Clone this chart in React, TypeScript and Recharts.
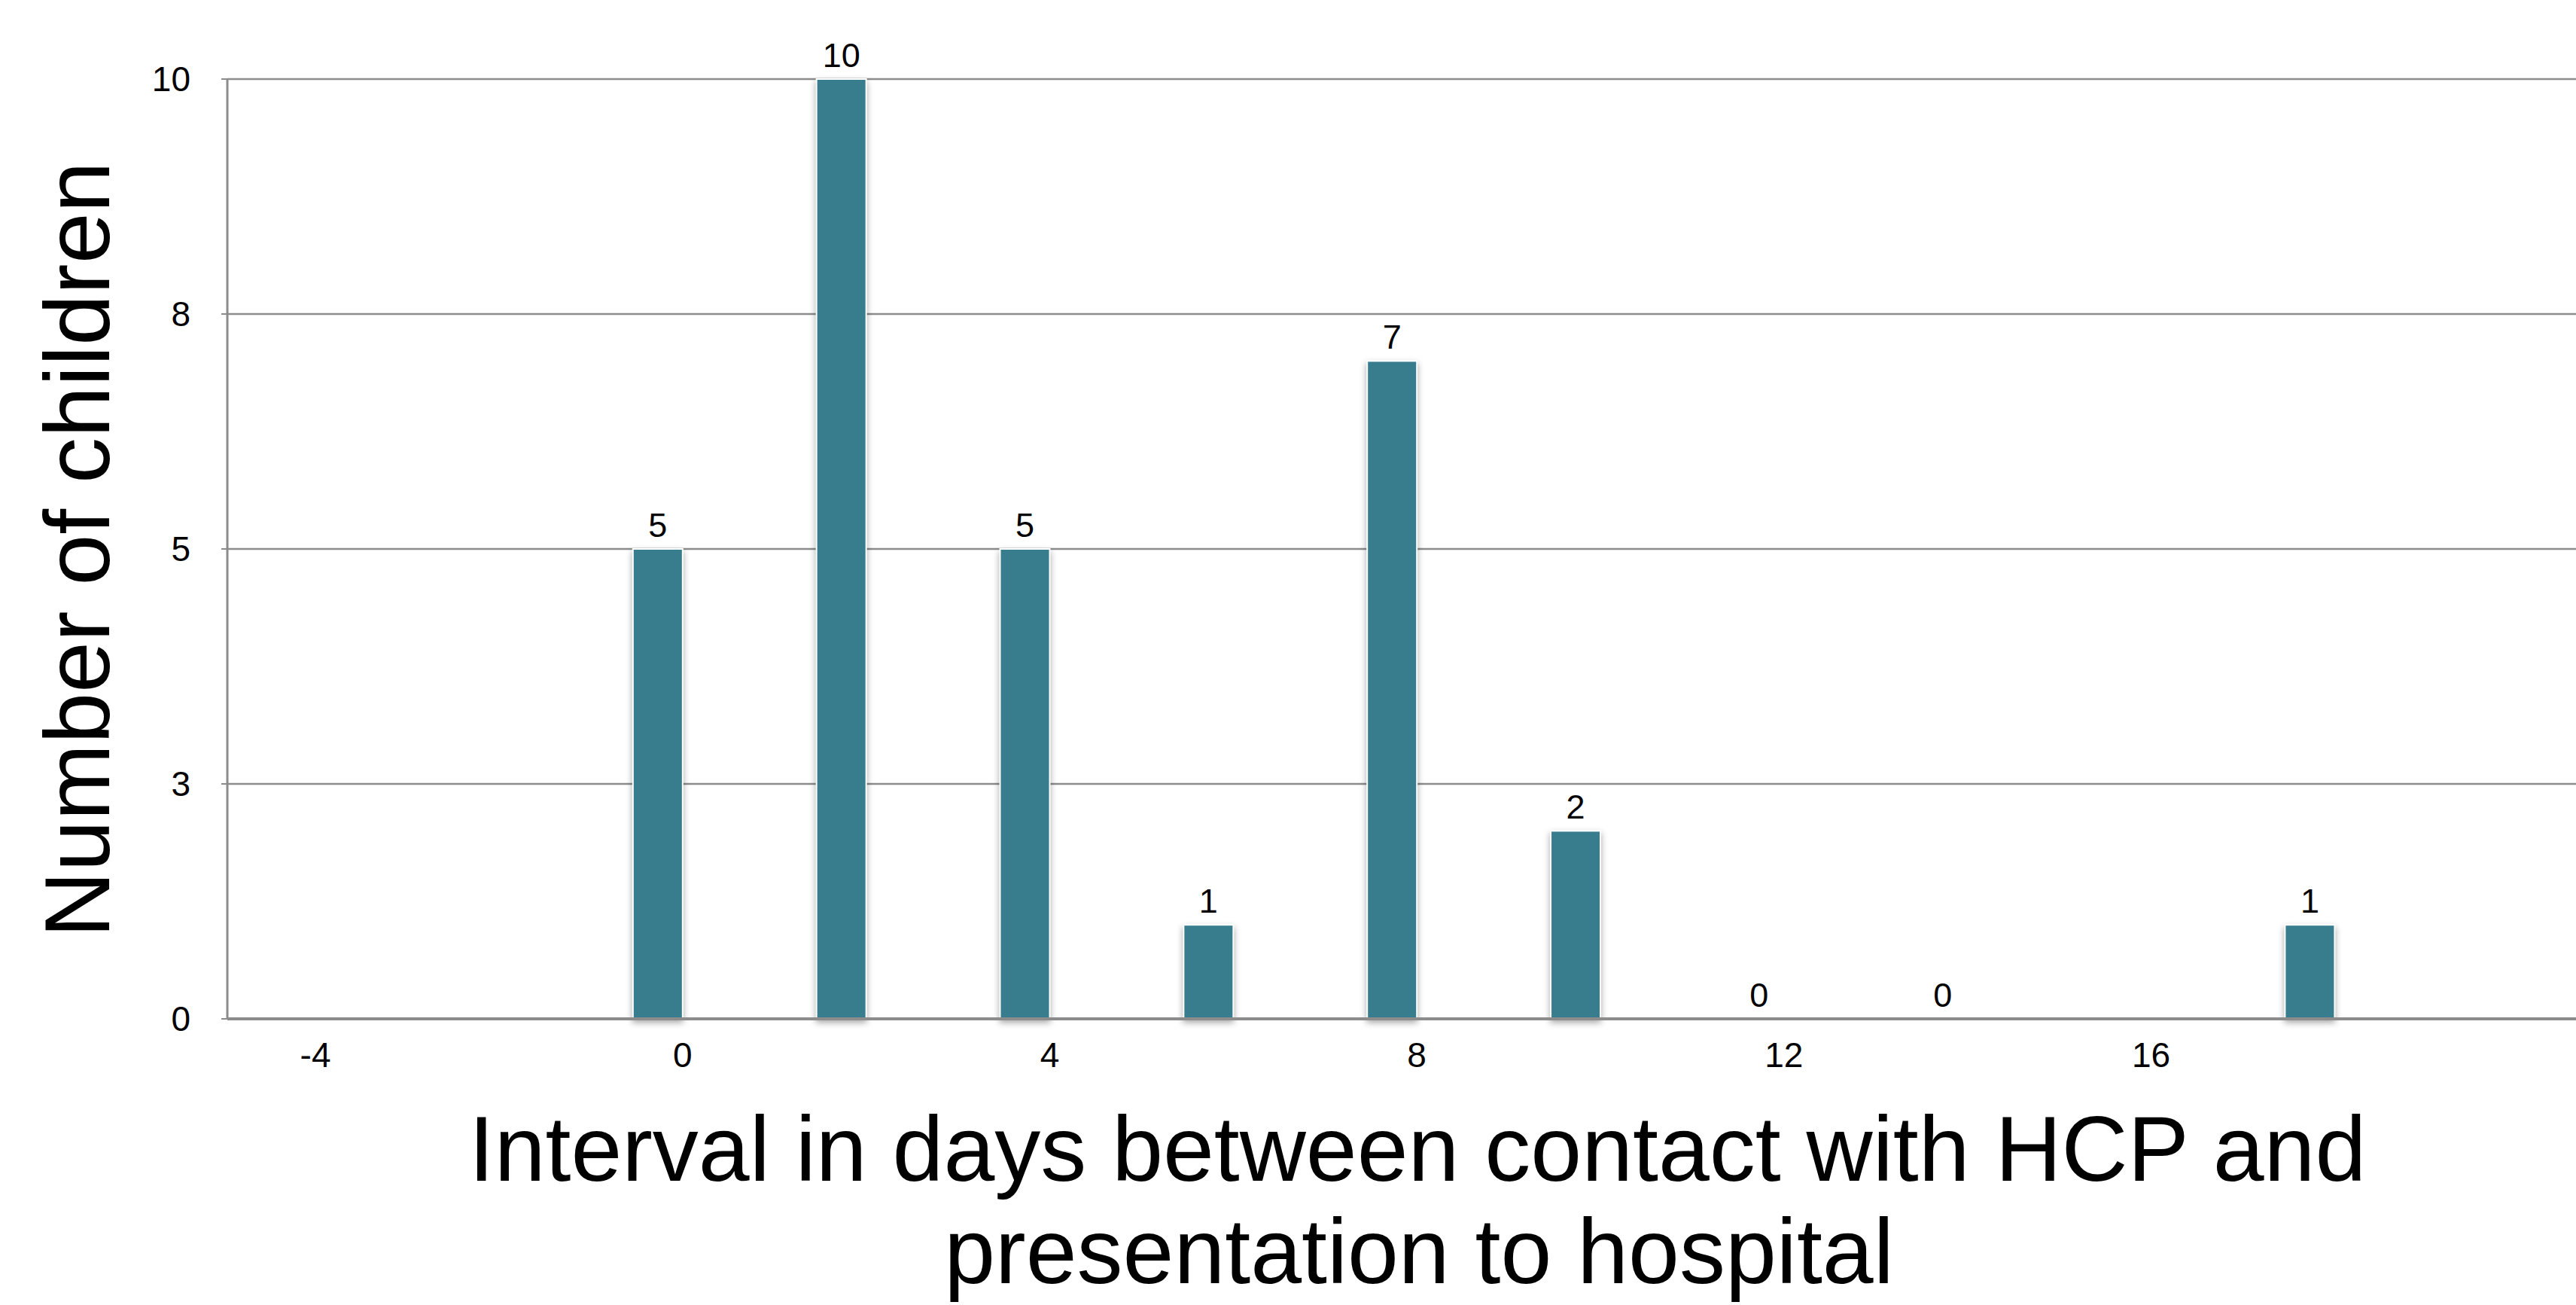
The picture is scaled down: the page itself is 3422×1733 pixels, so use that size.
import { BarChart, Bar, XAxis, YAxis, CartesianGrid, LabelList, Label } from 'recharts';

// days between HCP contact and hospital presentation
const intervalDays = [0, 2, 4, 6, 8, 10, 12, 14, 18];
const childCounts = [5, 10, 5, 1, 7, 2, 0, 0, 1];
const xTicks = [-4, 0, 4, 8, 12, 16];
const yTicks = [0, 2.5, 5, 7.5, 10];

const data = intervalDays.map((day, i) => ({ day, count: childCounts[i] }));

const BAR_COLOR = '#377d8e';
const AXIS_GRAY = '#8c8c8c';
const FONT = '"Liberation Sans", Arial, sans-serif';

// Excel-style offset: the bar sits just left of its tick
const ShiftedBar = (props: any) => {
  const { x, y, width, height } = props;
  if (!height) return <g />;
  return (
    <rect
      x={x - width / 2}
      y={y}
      width={width}
      height={height}
      fill={BAR_COLOR}
      stroke="#ffffff"
      strokeWidth={2}
      style={{ filter: 'drop-shadow(0px 4px 4px rgba(0,0,0,0.35))' }}
    />
  );
};

const renderValue = (props: any) => {
  const vb = props.viewBox || props;
  const { x, y } = vb;
  return (
    <text x={x} y={y - 16} textAnchor="middle" fontSize={45} fontFamily={FONT} fill="#000">
      {props.value}
    </text>
  );
};

const App = () => {
  return (
    <div style={{ position: 'absolute', left: 0, top: 0, background: '#fff' }}>
      <BarChart width={3422} height={1733} data={data} margin={{ top: 105, right: 0, bottom: 0, left: 0 }}>
        <CartesianGrid vertical={false} stroke={AXIS_GRAY} strokeWidth={2.5} />
        <XAxis
          type="number"
          dataKey="day"
          domain={[-4.96, 20.63]}
          ticks={xTicks}
          interval={0}
          height={380}
          tickLine={false}
          tickSize={0}
          tickMargin={31}
          axisLine={{ stroke: AXIS_GRAY, strokeWidth: 4 }}
          tick={{ fontSize: 46, fill: '#000', fontFamily: FONT }}
        >
          <Label
            content={() => (
              <text textAnchor="middle" fontSize={122} fontFamily={FONT} fill="#000">
                <tspan x={1883} y={1568}>Interval in days between contact with HCP and</tspan>
                <tspan x={1885} y={1704}>presentation to hospital</tspan>
              </text>
            )}
          />
        </XAxis>
        <YAxis
          domain={[0, 10]}
          ticks={yTicks}
          interval={0}
          width={302}
          tickFormatter={(v: number) => String(Math.round(v))}
          tickSize={8}
          tickMargin={41}
          tickLine={{ stroke: AXIS_GRAY, strokeWidth: 2 }}
          axisLine={{ stroke: AXIS_GRAY, strokeWidth: 3 }}
          tick={{ fontSize: 46, fill: '#000', fontFamily: FONT }}
        >
          <Label
            content={() => (
              <text
                x={145}
                y={730}
                transform="rotate(-90, 145, 730)"
                textAnchor="middle"
                fontSize={122}
                fontFamily={FONT}
                fill="#000"
              >
                Number of children
              </text>
            )}
          />
        </YAxis>
        <Bar dataKey="count" barSize={66} shape={ShiftedBar} isAnimationActive={false}>
          <LabelList dataKey="count" content={renderValue} />
        </Bar>
      </BarChart>
    </div>
  );
};

export default App;
